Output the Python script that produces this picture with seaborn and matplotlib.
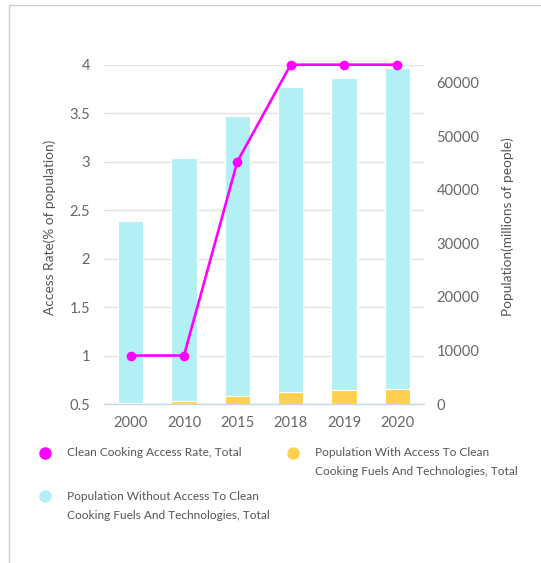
import matplotlib
matplotlib.use("Agg")
import matplotlib.pyplot as plt
from matplotlib.lines import Line2D
import seaborn as sns
import pandas as pd

years = ["2000", "2010", "2015", "2018", "2019", "2020"]
access_rate = [1.0, 1.0, 3.0, 4.0, 4.0, 4.0]
pop_with = [150, 500, 1440, 2240, 2560, 2740]
pop_without = [34050, 45540, 52450, 56960, 58320, 60010]

label_rate = "Clean Cooking Access Rate, Total"
label_with = "Population With Access To Clean\nCooking Fuels And Technologies, Total"
label_without = "Population Without Access To Clean\nCooking Fuels And Technologies, Total"

PINK = "#ff00ff"
CYAN = "#b3f0f5"
YELLOW = "#fdd14f"
GRID = "#e3e3e3"
AXBLUE = "#c5d6e6"
TXT = "#666666"
LBL = "#555555"

sns.set_theme(style="white")
plt.rcParams["font.family"] = ["Lato", "DejaVu Sans"]

df = pd.DataFrame({
    "year": years,
    "rate": access_rate,
    "with": pop_with,
    "without": pop_without,
})
df["total"] = df["with"] + df["without"]

W, H = 541, 563
fig = plt.figure(figsize=(W / 100, H / 100), dpi=100)
rect = [104 / W, 1 - 404 / H, 320 / W, (404 - 64.7) / H]

ax = fig.add_axes(rect)
axb = ax.twinx()
axl = ax.twinx()

ax.set_zorder(1)
axb.set_zorder(2)
axl.set_zorder(3)
axb.patch.set_visible(False)
axl.patch.set_visible(False)

# bars
sns.barplot(data=df, x="year", y="total", color=CYAN, width=0.48, ax=axb,
            saturation=1, edgecolor="white", linewidth=0.8)
sns.barplot(data=df, x="year", y="with", color=YELLOW, width=0.48, ax=axb,
            saturation=1, edgecolor="white", linewidth=0.8)
axb.set_ylim(0, 63400)

# line
sns.lineplot(data=df, x="year", y="rate", color=PINK, ax=axl, linewidth=1.9,
             marker="o", markersize=7, markeredgewidth=0, sort=False)
for l in axl.lines:
    l.set_clip_on(False)
axl.set_ylim(0.5, 4)

# shared x axis setup (on base axes)
ax.set_xlim(-0.5, len(years) - 0.5)
ax.set_xticks(range(len(years)))
ax.set_xticklabels(years)
ax.set_xticks([i - 0.5 for i in range(len(years) + 1)], minor=True)
ax.tick_params(axis="x", which="major", length=0, pad=8.8, labelsize=10.6, labelcolor=TXT)
ax.tick_params(axis="x", which="minor", length=8, width=1, color=AXBLUE)
ax.set_xlabel("")

for a in (axb, axl):
    a.tick_params(axis="x", which="both", bottom=False, top=False,
                  labelbottom=False, labeltop=False)
    a.set_xlabel("")

# left axis
ax.set_ylim(0.5, 4)
ax.set_yticks([0.5, 1, 1.5, 2, 2.5, 3, 3.5, 4])
ax.set_yticklabels(["0.5", "1", "1.5", "2", "2.5", "3", "3.5", "4"])
ax.yaxis.grid(True, color=GRID, linewidth=1)
ax.tick_params(axis="y", length=0, pad=10, labelsize=10.6, labelcolor=TXT)
ax.set_ylabel("Access Rate(% of population)", fontsize=9.8, color=LBL, labelpad=9.5)
ax.yaxis.label.set_y(0.522)
for s in ["top", "right", "left"]:
    ax.spines[s].set_visible(False)
ax.spines["bottom"].set_color(AXBLUE)
ax.spines["bottom"].set_linewidth(1)

# right axis
axb.set_yticks([0, 10000, 20000, 30000, 40000, 50000, 60000])
axb.set_yticklabels(["0", "10000", "20000", "30000", "40000", "50000", "60000"])
axb.tick_params(axis="y", length=0, pad=9, labelsize=10.6, labelcolor=TXT)
axb.yaxis.set_label_position("right")
axb.yaxis.tick_right()
axb.set_ylabel("Population(millions of people)", fontsize=9.8, color=LBL, labelpad=16)
axb.yaxis.label.set_y(0.522)
for s in axb.spines.values():
    s.set_visible(False)

axl.set_yticks([])
axl.set_ylabel("")
for s in axl.spines.values():
    s.set_visible(False)

# legend (manual, figure coords in pixels)
def fx(px):
    return px / W

def fy(py):
    return 1 - py / H

entries = [
    (45, 452.7, 66.7, 454, PINK, label_rate),
    (293.3, 452.7, 315, 454, YELLOW, label_with),
    (45, 495.7, 66.7, 497.7, CYAN, label_without),
]
for mx, my, tx, ty, c, lab in entries:
    fig.add_artist(Line2D([fx(mx)], [fy(my)], marker="o", markersize=9,
                          color=c, markeredgewidth=0, linestyle="none",
                          transform=fig.transFigure))
    fig.text(fx(tx), fy(ty - 6.5), lab, fontsize=8.6, color=LBL,
             va="top", ha="left", linespacing=1.85)

# border
fig.add_artist(Line2D([fx(9), fx(541)], [fy(5), fy(5)], color="#cccccc",
                      linewidth=1, transform=fig.transFigure))
fig.add_artist(Line2D([fx(9), fx(9)], [fy(5), fy(563)], color="#cccccc",
                      linewidth=1, transform=fig.transFigure))

fig.savefig("out.png", dpi=100)
